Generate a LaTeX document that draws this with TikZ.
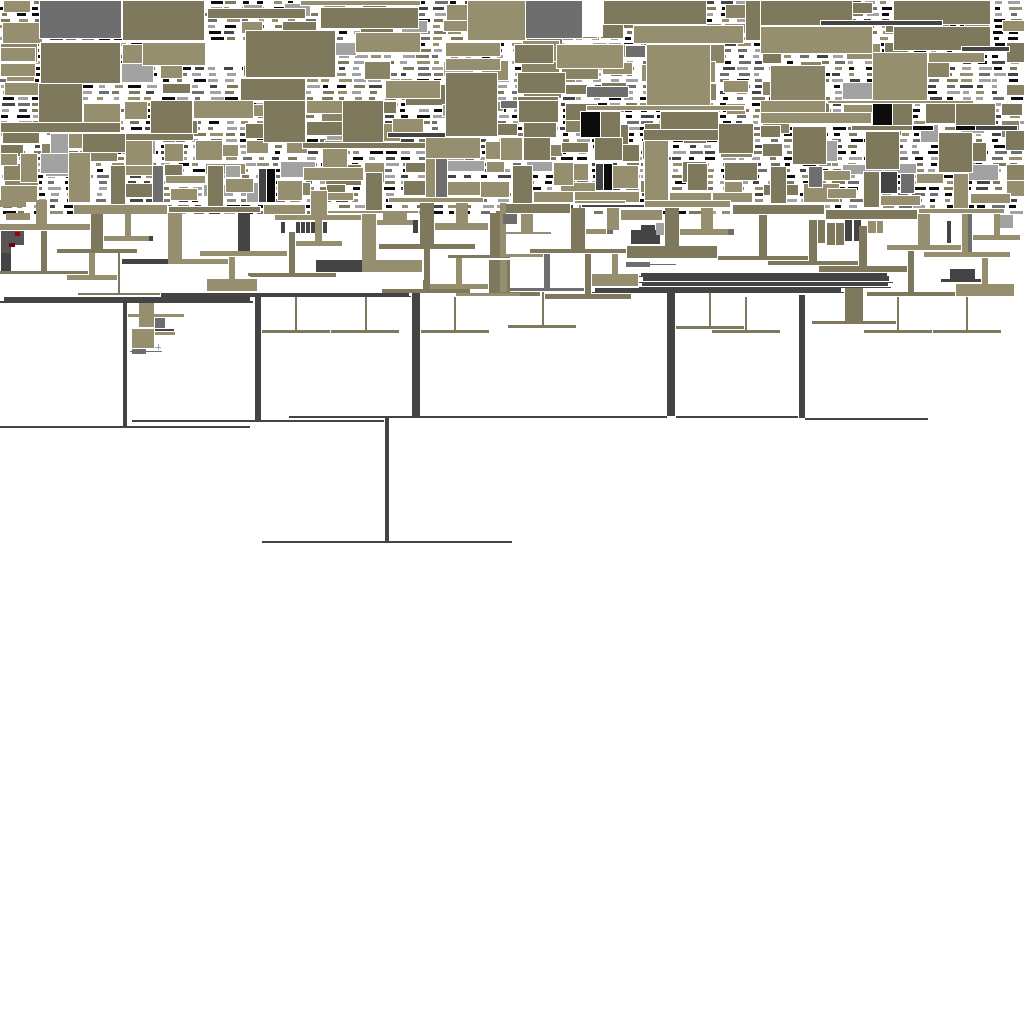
\documentclass[tikz,border=0pt]{standalone}
\definecolor{oliveD}{HTML}{7E785D}
\definecolor{oliveM}{HTML}{8A8466}
\definecolor{oliveL}{HTML}{958F6F}
\definecolor{greyL}{HTML}{A2A2A2}
\definecolor{greyM}{HTML}{6E6E6E}
\definecolor{greyK}{HTML}{565656}
\definecolor{greyD}{HTML}{444444}
\definecolor{ink}{HTML}{0C0C0C}
\definecolor{redA}{HTML}{A00000}
\definecolor{redB}{HTML}{6E0010}
\tikzset{
  blk/.style={draw=white, line width=0.8pt},
  part/.style={fill=#1},
}
\begin{document}
\begin{tikzpicture}[x=1pt,y=-1pt]
  \useasboundingbox (0,0) rectangle (1024,1024);
  % small glyph texture of the packed band
  \pgfmathsetseed{11}
  \pgfmathdeclarerandomlist{tone}{{ink}{ink}{greyD}{greyM}{greyL}{greyL}{oliveL}{oliveD}}
  \pgfmathdeclarerandomlist{boxtone}{{oliveL}{oliveL}{oliveD}{oliveD}{oliveM}{greyL}}
  \foreach \r in {0,...,35} {
    \foreach \k in {0,...,63} {
      \pgfmathrandomitem{\col}{tone}
      \pgfmathrandominteger{\w}{5}{13}
      \pgfmathrandominteger{\dx}{0}{3}
      \fill[\col] (\k*16+\dx, \r*6+1) rectangle ++(\w,3);
    }
  }
  % loose boxes between the glyphs
  \foreach \r in {0,...,9} {
    \foreach \k in {0,...,25} {
      \pgfmathrandominteger{\p}{0}{9}
      \pgfmathrandomitem{\col}{boxtone}
      \pgfmathrandominteger{\w}{18}{40}
      \pgfmathrandominteger{\h}{10}{21}
      \pgfmathrandominteger{\dx}{0}{6}
      \pgfmathrandominteger{\dy}{0}{4}
      \ifnum\p<7
        \filldraw[blk, fill=\col] (\k*40+\dx, \r*20+\dy) rectangle ++(\w,\h);
      \fi
    }
  }
  % packed blocks
  \foreach \xa/\ya/\xb/\yb/\col in {
    39/0/121/38/greyM, 122/0/204/40/oliveD, 207/8/305/18/oliveD, 300/0/420/5/oliveL,
    320/7/418/28/oliveD, 467/0/525/40/oliveL, 525/0/582/38/greyM, 582/0/602/36/white,
    603/0/706/24/oliveD, 745/0/760/40/oliveD, 760/0/852/25/oliveD, 893/0/990/24/oliveD,
    633/25/743/43/oliveL, 760/26/872/53/oliveL, 893/26/990/50/oliveD, 820/20/942/25/greyD,
    961/46/1009/51/greyD, 872/52/927/103/oliveL, 770/65/825/103/oliveM, 928/52/984/62/oliveL,
    0/47/35/61/oliveL, 0/63/35/76/oliveL, 40/42/120/83/oliveD, 142/42/210/65/oliveL,
    205/42/245/65/white, 245/30/335/77/oliveD, 355/32/420/52/oliveL, 445/42/500/56/oliveL,
    445/58/500/70/oliveL, 514/44/553/63/oliveD, 556/44/623/68/oliveL, 625/45/645/57/greyM,
    646/44/710/105/oliveL, 38/83/82/132/oliveD, 0/122/120/132/oliveD, 83/103/120/122/oliveL,
    150/100/192/133/oliveD, 193/100/253/118/oliveL, 115/133/193/140/oliveD, 240/78/305/100/oliveD,
    385/80/440/98/oliveL, 445/72/497/136/oliveD, 517/72/565/93/oliveD, 586/86/628/97/greyM,
    517/96/558/117/oliveD, 586/105/744/110/oliveL, 580/111/600/137/ink, 600/111/620/137/oliveD,
    660/111/718/130/oliveD, 643/129/718/140/oliveD, 718/123/753/153/oliveD, 760/100/825/112/oliveL,
    760/112/871/123/oliveL, 827/100/973/103/oliveL, 872/103/892/125/ink, 892/103/912/125/oliveD,
    955/103/995/125/oliveD, 851/125/912/130/oliveD, 912/125/933/130/ink, 955/125/975/130/ink,
    975/125/1017/130/greyD, 760/125/780/137/oliveD, 792/126/826/164/oliveD, 865/131/899/169/oliveD,
    938/132/972/172/oliveD, 1005/130/1024/150/oliveD, 263/100/305/142/oliveD, 306/100/342/113/oliveL,
    306/121/342/135/oliveD, 342/100/383/142/oliveD, 392/118/423/132/oliveL, 387/132/445/137/greyD,
    302/142/425/148/oliveD, 425/137/480/158/oliveL, 322/148/347/170/oliveL, 303/167/363/180/oliveL,
    365/172/382/213/oliveD, 425/158/437/200/oliveL, 435/158/447/202/greyM, 258/168/266/202/greyD,
    266/168/275/202/ink, 277/180/302/200/oliveL, 263/204/305/214/oliveL, 310/190/327/215/oliveL,
    327/192/353/200/oliveL, 327/210/418/213/oliveL, 388/197/483/202/oliveL, 500/100/517/108/greyM,
    518/100/558/122/oliveD, 500/137/522/160/oliveL, 523/137/550/160/oliveD, 594/137/622/160/oliveD,
    644/140/668/207/oliveL, 512/165/532/203/oliveD, 553/162/573/185/oliveL, 533/191/573/202/oliveL,
    574/191/639/202/oliveL, 595/163/603/190/greyD, 603/163/612/190/ink, 612/165/638/188/oliveL,
    687/163/707/190/oliveD, 669/192/711/203/oliveL, 712/192/752/202/oliveL, 500/203/570/213/oliveD,
    620/209/662/220/oliveL, 50/133/68/155/greyL, 68/133/82/148/oliveL, 82/133/125/152/oliveD,
    125/140/152/165/oliveL, 195/140/222/160/oliveL, 0/153/17/165/oliveL, 20/153/37/182/oliveL,
    40/153/70/173/greyL, 68/152/90/202/oliveL, 0/185/37/202/oliveL, 110/165/125/213/oliveD,
    152/165/163/202/greyM, 165/175/205/183/oliveL, 170/188/197/200/oliveL, 207/165/223/212/oliveD,
    225/165/240/177/greyL, 225/178/253/192/oliveL, 73/204/167/214/oliveL, 168/206/260/212/oliveD,
    770/166/786/203/oliveD, 760/204/824/214/oliveD, 808/166/822/187/greyM, 823/170/850/180/oliveL,
    827/188/856/198/oliveL, 863/171/879/207/oliveD, 825/209/917/219/oliveD, 880/171/897/193/greyD,
    900/173/914/193/greyM, 916/173/943/183/oliveL, 880/195/920/205/oliveL, 953/173/968/210/oliveL,
    970/193/1010/203/oliveL, 918/208/1004/213/oliveL, 574/200/625/203/oliveL, 581/204/644/207/greyD,
    644/200/730/207/oliveL, 732/204/824/214/oliveD}
    \filldraw[blk, fill=\col] (\xa,\ya) rectangle (\xb,\yb);
  % hanging tree
  \foreach \xa/\ya/\xb/\yb/\col in {
    0/200/26/207/oliveL, 36/200/47/225/oliveL, 6/213/30/220/oliveL, 0/224/90/230/oliveL,
    275/215/361/220/oliveL,
    1/231/11/262/greyK, 11/231/24/245/greyK, 15/232/20/236/redA, 9/243/15/247/redB,
    1/253/11/271/greyD, 41/231/47/272/oliveD, 0/271/88/274/oliveD, 91/214/103/249/oliveD,
    57/249/137/253/oliveD, 125/214/131/236/oliveL, 104/236/149/241/oliveL, 149/236/153/241/greyD,
    89/253/95/275/oliveL, 67/275/117/280/oliveL, 118/253/120/293/oliveD, 78/293/160/295/oliveD,
    122/259/168/264/greyD, 168/213/182/259/oliveL, 168/259/228/264/oliveL, 200/251/260/256/oliveL,
    238/213/250/251/greyD, 229/257/235/279/oliveL, 207/279/257/291/oliveL, 248/273/260/276/oliveD,
    281/222/285/233/greyD, 296/222/300/233/greyD, 301/222/305/233/greyD, 306/222/310/233/greyD,
    311/222/315/233/greyD, 323/222/327/233/greyD,
    289/232/295/273/oliveD, 250/273/336/277/oliveD, 250/251/287/256/oliveL, 315/220/322/241/oliveL,
    296/241/342/246/oliveL, 316/260/362/272/greyD, 362/214/376/260/oliveL, 362/260/422/272/oliveL,
    420/203/434/244/oliveD, 379/244/475/249/oliveD, 383/213/407/220/oliveL, 377/220/413/225/oliveL,
    413/220/418/233/greyD, 424/249/430/290/oliveD, 382/289/470/293/oliveD, 456/258/462/284/oliveL,
    430/284/488/289/oliveL, 456/203/468/223/oliveL, 435/223/488/230/oliveL, 490/213/500/255/oliveD,
    500/203/506/255/oliveL, 448/255/510/258/oliveD, 489/260/510/293/oliveD,
    503/214/517/224/greyM, 521/214/533/233/oliveL, 503/232/551/234/oliveL, 500/254/543/257/oliveL,
    500/260/507/296/oliveL, 500/292/540/296/oliveD, 544/254/550/288/greyM, 510/288/584/291/greyM,
    571/208/585/250/oliveD, 530/249/626/253/oliveD, 586/229/606/234/oliveL, 607/229/613/234/greyM,
    607/208/619/230/oliveL, 585/254/591/296/oliveD, 545/294/631/299/oliveD, 612/254/618/274/oliveL,
    592/274/638/286/oliveL, 626/262/650/267/greyM, 650/264/676/265/greyM, 665/208/679/246/oliveD,
    627/246/717/258/oliveD, 631/230/660/244/greyD, 641/225/655/230/greyD, 656/223/664/235/greyL,
    701/208/713/230/oliveL, 680/229/728/235/oliveL, 728/229/734/235/greyM, 759/215/767/256/oliveD,
    718/256/808/260/oliveD, 768/261/858/265/oliveD, 809/220/817/261/oliveD, 818/220/825/243/oliveD,
    827/223/835/245/oliveD, 836/223/844/245/oliveD, 845/220/852/241/greyD, 854/220/861/241/greyD,
    859/226/867/266/oliveD, 819/266/907/272/oliveD, 868/221/876/233/oliveL, 877/221/883/233/oliveL,
    908/251/914/292/oliveD, 867/292/955/296/oliveD, 887/245/961/250/oliveL, 918/214/930/245/oliveL,
    947/221/951/243/greyD, 962/214/968/252/oliveL, 968/214/972/252/greyM, 924/252/1010/257/oliveL,
    982/258/988/284/oliveL, 956/284/1014/296/oliveL, 950/269/975/279/greyD, 941/279/981/282/greyD,
    973/235/1020/240/oliveL, 1000/215/1013/228/greyL, 994/214/1000/235/oliveL,
    423/280/429/290/oliveD, 510/288/520/291/greyM, 456/293/520/296/oliveL}
    \fill[part=\col] (\xa,\ya) rectangle (\xb,\yb);
  % stacked rails and main branches
  \foreach \xa/\ya/\xb/\yb in {
    641/273/887/276, 639/275.5/889/276.5, 643/277/889/281, 639/281.5/893/282.5,
    642/283/888/286, 639/286.5/891/287.5, 595/288/841/292, 592/291.5/844/292.5,
    4/297/250/302, 0/301/253/302.5, 161/293/409/296, 161/295.5/411/296.5,
    123/303/127/426, 0/426/250/427.5, 255/297/261/420, 132/420/384/421.5,
    412/293/420/416, 289/416/667/417.5, 385/418/389/542, 262/541/512/542.5,
    667/293/675/416, 676/416/798/417.5, 799/295/805/418, 805/418/928/419.5}
    \fill[part=greyD] (\xa,\ya) rectangle (\xb,\yb);
  % leaves
  \foreach \xa/\ya/\xb/\yb/\col in {
    139/303/154/327/oliveL, 128/314/184/317/oliveL, 155/318/165/328/greyM, 155/329/174/331/greyD,
    155/332/175/335/oliveL, 132/329/154/348/oliveL, 132/349/146/354/greyM, 130/351/162/352/greyM,
    295/297/297/330/oliveD, 262/330/330/333/oliveD, 365/297/367/330/oliveD, 331/330/399/333/oliveD,
    454/297/456/330/oliveD, 421/330/489/333/oliveD, 542/292/544/325/oliveD, 508/325/576/328/oliveD,
    709/293/711/327/oliveD, 676/326/744/329/oliveD, 745/297/747/332/oliveD, 712/330/780/333/oliveD,
    845/288/863/322/oliveD, 812/321/896/324/oliveD, 897/297/899/330/oliveD, 864/330/932/333/oliveD,
    966/297/968/330/oliveD, 933/330/1001/333/oliveD}
    \fill[part=\col] (\xa,\ya) rectangle (\xb,\yb);
  \draw[greyL, line width=1pt] (155,347) -- (161,347) (158,344) -- (158,350);
\end{tikzpicture}
\end{document}
